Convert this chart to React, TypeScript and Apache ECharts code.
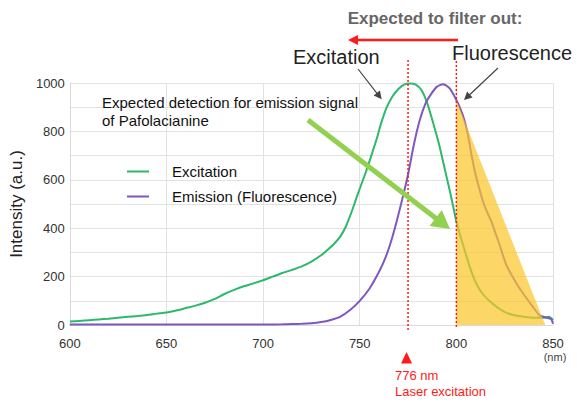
import React, { useEffect, useRef } from "react";
import * as echarts from "echarts";

// ---- data (wavelength nm, intensity a.u.) ----
const excitation: [number, number][] = [
  [600, 14], [605, 17], [610, 20], [615, 23], [620, 26], [625, 30], [630, 34], [635, 37],
  [640, 41], [645, 47], [650, 52], [655, 60], [660, 70], [665, 80], [670, 92], [675, 108],
  [680, 128], [685, 145], [690, 160], [695, 172], [700, 185], [705, 200], [710, 215],
  [715, 228], [720, 242], [725, 262], [730, 288], [734, 315], [737, 338], [740, 366],
  [743, 410], [746, 472], [748, 518], [750, 563], [753, 628], [756, 700], [759, 775],
  [761, 832], [764, 900], [767, 945], [770, 975], [773, 993], [776, 998], [779, 993],
  [782, 970], [785, 915], [788, 835], [791, 748], [794, 645], [797, 540], [800, 428],
  [802, 370], [805, 290], [808, 215], [811, 160], [814, 125], [817, 100], [820, 80],
  [823, 63], [826, 50], [830, 40], [835, 34], [840, 30], [845, 30], [848, 34], [850, 20],
];
const emission: [number, number][] = [
  [600, 2], [650, 2], [700, 2], [710, 3], [715, 4], [720, 5], [725, 7], [730, 12],
  [735, 21], [740, 35], [745, 62], [750, 100], [755, 150], [760, 220], [763, 272],
  [766, 340], [769, 425], [772, 520], [775, 622], [778, 745], [781, 845], [784, 915],
  [787, 955], [790, 985], [793, 995], [796, 982], [798, 960], [800, 930], [802, 895],
  [804, 850], [806, 785], [808, 695], [810, 620], [812, 560], [814, 505], [816, 465],
  [818, 430], [820, 385], [822, 340], [824, 290], [826, 245], [829, 200], [832, 160],
  [835, 125], [838, 92], [841, 60], [843, 40], [846, 32], [849, 25], [850, 5],
];
const detectionBand: [number, number][] = [[800, 930], [846, 0]];
const seriesNames = ["Excitation", "Emission (Fluorescence)"];
const laserLineNm = 775;
const cutoffNm = 800;
const laserLabel = ["776 nm", "Laser excitation"];
const detectionNote = "Expected detection for emission signal\nof Pafolacianine";

const FONT = "Liberation Sans, Arial, sans-serif";
const GREEN = "#2BB96A";
const PURPLE = "#7E57C2";
const RED = "#FF1A1A";

function arrow(x1: number, y1: number, x2: number, y2: number, color: string, w: number, hl: number, hw: number) {
  const dx = x2 - x1, dy = y2 - y1;
  const len = Math.sqrt(dx * dx + dy * dy);
  const ux = dx / len, uy = dy / len;
  const bx = x2 - ux * hl, by = y2 - uy * hl;
  const px = -uy, py = ux;
  return [
    { type: "line", shape: { x1, y1, x2: bx + ux * 1, y2: by + uy * 1 }, style: { stroke: color, lineWidth: w }, z: 100 },
    {
      type: "polygon",
      shape: { points: [[x2, y2], [bx + px * hw, by + py * hw], [bx - px * hw, by - py * hw]] },
      style: { fill: color }, z: 100,
    },
  ];
}

export default function App() {
  const ref = useRef<HTMLDivElement>(null);
  useEffect(() => {
    if (!ref.current) return;
    const chart = echarts.init(ref.current, undefined, { renderer: "svg" });
    chart.setOption({
      animation: false,
      textStyle: { fontFamily: FONT },
      grid: { left: 65, right: 24, top: 83, bottom: 78, containLabel: false },
      legend: {
        data: seriesNames,
        orient: "vertical",
        left: 122,
        top: 159,
        icon: "rect",
        itemWidth: 22,
        itemHeight: 2,
        itemGap: 10,
        textStyle: { fontSize: 15, color: "#111", fontFamily: FONT, padding: [0, 0, 0, 18] },
      },
      xAxis: {
        type: "value",
        min: 600,
        max: 850,
        interval: 50,
        axisLine: { show: true, lineStyle: { color: "#d9d9d9" } },
        axisTick: { show: false },
        axisLabel: { fontSize: 13, color: "#333", margin: 12, fontFamily: FONT },
        splitLine: { show: true, lineStyle: { color: "#e2e2e2" } },
      },
      yAxis: {
        type: "value",
        min: 0,
        max: 1000,
        interval: 100,
        name: "Intensity (a.u.)",
        nameLocation: "middle",
        nameGap: 40,
        nameTextStyle: { fontSize: 17, color: "#222", fontFamily: FONT },
        axisLine: { show: true, lineStyle: { color: "#d9d9d9" } },
        axisTick: { show: false },
        axisLabel: {
          fontSize: 13, color: "#333", margin: 5, fontFamily: FONT,
          formatter: (v: number) => (v % 200 === 0 ? String(v) : ""),
        },
        splitLine: { show: true, lineStyle: { color: "#e2e2e2" } },
      },
      series: [
        {
          name: seriesNames[0], type: "line", data: excitation, showSymbol: false, smooth: 0.2,
          lineStyle: { color: GREEN, width: 2 }, itemStyle: { color: GREEN }, z: 3,
        },
        {
          name: seriesNames[1], type: "line", data: emission, showSymbol: false, smooth: 0.2,
          lineStyle: { color: PURPLE, width: 2 }, itemStyle: { color: PURPLE }, z: 3,
        },
        {
          name: "band", type: "line", data: detectionBand, showSymbol: false,
          lineStyle: { width: 0, color: "rgba(252,196,40,0.7)" },
          areaStyle: { color: "rgba(252,196,40,0.7)", opacity: 1 },
          itemStyle: { color: "rgba(252,196,40,0.7)" }, z: 5, silent: true,
        },
      ],
    });

    const lx = chart.convertToPixel({ gridIndex: 0 }, [laserLineNm, 0]) as number[];
    const cx = chart.convertToPixel({ gridIndex: 0 }, [cutoffNm, 0]) as number[];
    const graphic: any[] = [
      { type: "line", shape: { x1: lx[0], y1: 60, x2: lx[0], y2: 332 }, style: { stroke: RED, lineWidth: 1.5, lineDash: [2, 2] }, z: 90 },
      { type: "line", shape: { x1: cx[0], y1: 61, x2: cx[0], y2: 328 }, style: { stroke: RED, lineWidth: 1.5, lineDash: [2, 2] }, z: 90 },
      { type: "polygon", shape: { points: [[lx[0] - 1.5, 352], [lx[0] + 4, 363.5], [lx[0] - 7, 363.5]] }, style: { fill: RED }, z: 90 },
      { type: "text", x: 395, y: 375, style: { text: laserLabel[0], font: `13px ${FONT}`, fill: RED, textVerticalAlign: "middle" }, z: 100 },
      { type: "text", x: 395, y: 391, style: { text: laserLabel[1], font: `13px ${FONT}`, fill: RED, textVerticalAlign: "middle" }, z: 100 },
      { type: "text", x: 555, y: 357, style: { text: "(nm)", font: `11px ${FONT}`, fill: "#444", textAlign: "center", textVerticalAlign: "middle" }, z: 100 },
      { type: "text", x: 435, y: 18, style: { text: "Expected to filter out:", font: `bold 17px ${FONT}`, fill: "#666", textAlign: "center", textVerticalAlign: "middle" }, z: 100 },
      { type: "text", x: 293, y: 57, style: { text: "Excitation", font: `20px ${FONT}`, fill: "#222", textVerticalAlign: "middle" }, z: 100 },
      { type: "text", x: 452, y: 53, style: { text: "Fluorescence", font: `20px ${FONT}`, fill: "#222", textVerticalAlign: "middle" }, z: 100 },
      { type: "text", x: 102, y: 93, style: { text: detectionNote, font: `15px ${FONT}`, lineHeight: 18.5, fill: "#111", textVerticalAlign: "top" }, z: 100 },
      ...arrow(458, 40, 348, 40, RED, 2.5, 10, 5),
      ...arrow(358, 69, 381.7, 99.3, "#444", 1.2, 8, 4),
      ...arrow(498, 68, 464, 100, "#444", 1.2, 8, 4),
      ...arrow(308, 120, 450, 229, "#92D050", 5, 18, 10),
    ];
    chart.setOption({ graphic });
    return () => chart.dispose();
  }, []);
  return <div ref={ref} style={{ position: "absolute", left: 0, top: 0, width: 577, height: 403 }} />;
}
